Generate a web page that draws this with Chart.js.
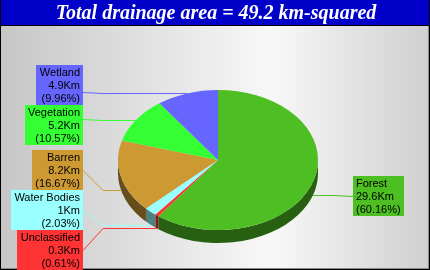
<!DOCTYPE html>
<html>
<head>
<meta charset="utf-8">
<script src="https://cdn.jsdelivr.net/npm/chart.js@4"></script>
<style>
  html, body { margin: 0; padding: 0; background: #fff; }
  #wrap { width: 430px; height: 270px; }
</style>
</head>
<body>
<div id="wrap"><canvas id="pie" width="430" height="270"></canvas></div>
<script>
// drainage area per land class, km-squared
const classes = ['Forest', 'Unclassified', 'Water Bodies', 'Barren', 'Vegetation', 'Wetland'];
const areaKm = [29.6, 0.3, 1, 8.2, 5.2, 4.9];
const sliceColors = ['#4dbf22', '#ff3333', '#99ffff', '#cc9933', '#33ff33', '#6666ff'];
const titleText = 'Total drainage area = 49.2 km-squared';

// where each label box sits (left side boxes are right-aligned at x=83)
const labelBoxes = [
  { side: 'right', x: 353, top: 176, lineY: 196 },
  { side: 'left', x: 83, top: 230, lineY: 250 },
  { side: 'left', x: 83, top: 190, lineY: 210 },
  { side: 'left', x: 83, top: 150, lineY: 170 },
  { side: 'left', x: 83, top: 105, lineY: 119 },
  { side: 'left', x: 83, top: 65, lineY: 92 }
];

const squash = 0.7;   // vertical scale of the pie top
const depth = 13;     // thickness of the 3d side

const total = areaKm.reduce((a, b) => a + b, 0);

function darken(hex, f) {
  const n = parseInt(hex.slice(1), 16);
  const r = Math.round(((n >> 16) & 255) * f);
  const g = Math.round(((n >> 8) & 255) * f);
  const b = Math.round((n & 255) * f);
  return `rgb(${r},${g},${b})`;
}

const frame = {
  id: 'frame',
  beforeDraw(chart) {
    const ctx = chart.ctx;
    const W = chart.width, H = chart.height;
    ctx.save();
    const grad = ctx.createLinearGradient(0, 0, W, 0);
    grad.addColorStop(0, '#c6c6c6');
    grad.addColorStop(0.63, '#f8f8f8');
    grad.addColorStop(1, '#cfcfcf');
    ctx.fillStyle = grad;
    ctx.fillRect(0, 0, W, H);

    ctx.fillStyle = '#0000c8';
    ctx.fillRect(0, 0, W, 25);
    ctx.fillStyle = '#000';
    ctx.fillRect(0, 25, W, 1);

    ctx.fillStyle = '#fff';
    ctx.font = 'bold italic 20px "Liberation Serif", "DejaVu Serif", serif';
    ctx.textAlign = 'center';
    ctx.textBaseline = 'alphabetic';
    ctx.fillText(titleText, 216, 19);

    // raised border
    ctx.fillStyle = '#000';
    ctx.fillRect(0, 0, 1, H);
    ctx.fillRect(W - 1, 0, 1, H);
    ctx.fillRect(0, H - 1, W, 1);
    ctx.fillStyle = '#8a8a8a';
    ctx.fillRect(W - 2, 26, 1, H - 27);
    ctx.fillRect(1, H - 2, W - 2, 1);
    ctx.restore();
  }
};

const pie3d = {
  id: 'pie3d',
  beforeDatasetsDraw(chart) {
    const ctx = chart.ctx;
    const arcs = chart.getDatasetMeta(0).data;
    ctx.save();
    arcs.forEach((arc, i) => {
      const { x, y, outerRadius, startAngle, endAngle } = arc.getProps(['x', 'y', 'outerRadius', 'startAngle', 'endAngle'], true);
      const ry = outerRadius * squash;
      // only the front half of the rim shows its side
      [[0, Math.PI], [2 * Math.PI, 3 * Math.PI]].forEach(([lo, hi]) => {
        const s = Math.max(startAngle, lo), e = Math.min(endAngle, hi);
        if (s >= e) return;
        ctx.beginPath();
        ctx.ellipse(x, y, outerRadius, ry, 0, s, e);
        ctx.lineTo(x + outerRadius * Math.cos(e), y + ry * Math.sin(e) + depth);
        ctx.ellipse(x, y + depth, outerRadius, ry, 0, e, s, true);
        ctx.closePath();
        ctx.fillStyle = darken(sliceColors[i], 0.5);
        ctx.fill();
      });
    });
    ctx.restore();
    // squash the circle into an ellipse for the top face
    const a = arcs[0];
    ctx.save();
    ctx.translate(a.x, a.y);
    ctx.scale(1, squash);
    ctx.translate(-a.x, -a.y);
  },
  afterDatasetsDraw(chart) {
    chart.ctx.restore();
  },
  afterDraw(chart) {
    const ctx = chart.ctx;
    const arcs = chart.getDatasetMeta(0).data;
    ctx.save();
    ctx.font = '11px "Liberation Sans", Arial, sans-serif';
    ctx.textBaseline = 'alphabetic';
    arcs.forEach((arc, i) => {
      const mid = (arc.startAngle + arc.endAngle) / 2;
      let ax = arc.x + arc.outerRadius * Math.cos(mid);
      let ay = arc.y + arc.outerRadius * squash * Math.sin(mid);
      if (Math.sin(mid) > 0) ay += depth;

      const pct = (areaKm[i] / total * 100).toFixed(2);
      const lines = [classes[i], areaKm[i] + 'Km', '(' + pct + '%)'];
      const w = Math.ceil(Math.max(...lines.map(t => ctx.measureText(t).width))) + 6;
      const h = 40;
      const b = labelBoxes[i];
      const left = b.side === 'left' ? b.x - w : b.x;
      const edge = b.side === 'left' ? b.x : b.x;
      const bend = b.side === 'left' ? edge + 20 : edge - 20;

      ctx.strokeStyle = sliceColors[i];
      ctx.lineWidth = 1;
      ctx.beginPath();
      ctx.moveTo(edge, b.lineY + 0.5);
      ctx.lineTo(bend, Math.round(ay) + 0.5);
      ctx.lineTo(ax, Math.round(ay) + 0.5);
      ctx.stroke();

      ctx.fillStyle = sliceColors[i];
      ctx.fillRect(left, b.top, w, h);
      ctx.fillStyle = '#000';
      lines.forEach((t, k) => {
        if (b.side === 'left') {
          ctx.textAlign = 'right';
          ctx.fillText(t, left + w - 3, b.top + 11 + k * 13);
        } else {
          ctx.textAlign = 'left';
          ctx.fillText(t, left + 3, b.top + 11 + k * 13);
        }
      });
    });
    ctx.restore();
  }
};

new Chart(document.getElementById('pie'), {
  type: 'pie',
  data: {
    labels: classes,
    datasets: [{
      data: areaKm,
      backgroundColor: sliceColors,
      borderWidth: 0,
      hoverOffset: 0,
      offset: 0
    }]
  },
  options: {
    responsive: false,
    animation: false,
    events: [],
    layout: { padding: { left: 118, right: 112, top: 60, bottom: 10 } },
    plugins: {
      legend: { display: false },
      title: { display: false },
      tooltip: { enabled: false }
    }
  },
  plugins: [frame, pie3d]
});
</script>
</body>
</html>
